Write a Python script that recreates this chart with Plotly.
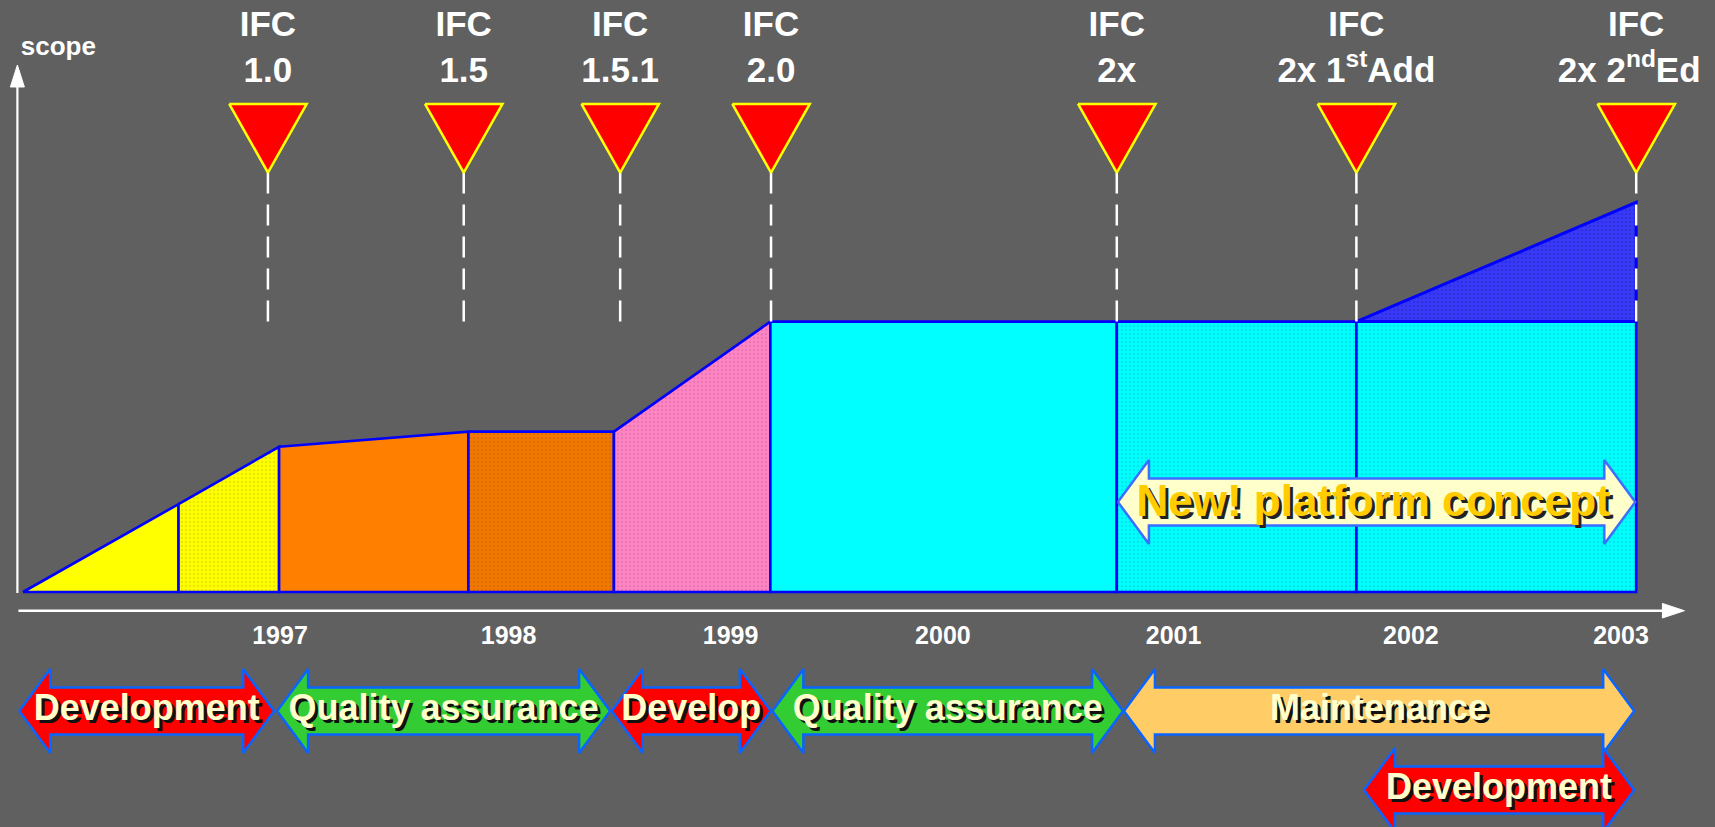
import plotly.graph_objects as go

# ======================= DATA =======================
# Scope profile: x in (decimal) years, y in relative scope units (IFC 2.0 scope = 100)
profile_years = [1995.850, 1996.546, 1996.996, 1997.843, 1998.494, 1999.194, 2000.744, 2001.816, 2003.068]
profile_scope = [0, 32.5, 53.7, 59.3, 59.3, 100, 100, 100, 100]
segment_colors = ["#FFFF00", "#FFFF00", "#FF8000", "#F27800", "#FF84C4",
                  "#00FFFF", "#00FFFF", "#00FFFF"]
segment_dotted = [False, True, False, True, True, False, True, True]

# scope extension of the 2nd edition
ext_years = [2001.816, 2003.068]
ext_scope = [100, 144.1]
ext_color = "#3838FA"

# IFC releases
milestone_years = [1996.946, 1997.822, 1998.522, 1999.197, 2000.744, 2001.816, 2003.068]
milestone_names = ["IFC", "IFC", "IFC", "IFC", "IFC", "IFC", "IFC"]
milestone_versions = ["1.0", "1.5", "1.5.1", "2.0", "2x",
                      "2x 1<sup>st</sup>Add", "2x 2<sup>nd</sup>Ed"]

# time axis labels
year_labels = ["1997", "1998", "1999", "2000", "2001", "2002", "2003"]
year_positions = [1997.000, 1998.023, 1999.016, 1999.966, 2000.998, 2002.060, 2003.000]

# project phases
phase_labels = ["Development", "Quality assurance", "Develop", "Quality assurance",
                "Maintenance", "Development"]
phase_start = [1995.833, 1996.987, 1998.484, 1999.203, 2000.776, 2001.850]
phase_end = [1996.974, 1998.477, 1999.196, 2000.772, 2003.059, 2003.059]
phase_row = [0, 0, 0, 0, 0, 1]
phase_colors = ["#FF0000", "#33CC33", "#FF0000", "#33CC33", "#FFCC66", "#FF0000"]

platform_label = "New! platform concept"
platform_start = 2000.749
platform_end = 2003.064

# ======================= STYLE / LAYOUT =======================
W, H = 1715, 827
PX_PER_YEAR = 223.5
PX_PER_SCOPE = 2.704
X0 = 1995.7472          # year at left edge of the figure
Y0 = -86.91             # scope value at bottom edge of the figure
BG = "#606060"
EDGE = "#0000FF"
ARROW_EDGE = "#0A64FF"
FONT = "Liberation Sans, Arial, sans-serif"


def dx(px):
    return px / PX_PER_YEAR


def dy(px):
    return px / PX_PER_SCOPE


def darken(hexc, f=0.85):
    h = hexc.lstrip("#")
    r, g, b = (int(h[i:i + 2], 16) for i in (0, 2, 4))
    return "#%02X%02X%02X" % (int(r * f), int(g * f), int(b * f))


ROW_CENTERS = [-44.0, -73.2]
PLATFORM_CENTER = 33.3
TRI_TOP = 180.5
TRI_TIP = 155.1
TRI_HALF_W_PX = 38.75
DASH_END = 100
AXIS_X = 1995.8250
AXIS_Y = -6.92
V_AXIS_BOTTOM = -0.4
V_AXIS_TIP = 194.9
H_AXIS_TIP = 2003.2837
YEAR_Y = -16.8
IFC_Y = 208.8
VER_Y = 192.0
SCOPE_Y = 201.0
# horizontal nudges (px) of the version labels (last one kept inside the page)
VERSION_SHIFT_PX = [0, 0, 0, 0, 0, 0, -7]

fig = go.Figure()

# ---- scope area segments ----
for i in range(len(profile_years) - 1):
    xa, xb = profile_years[i], profile_years[i + 1]
    ya, yb = profile_scope[i], profile_scope[i + 1]
    col = segment_colors[i]
    kw = {}
    if segment_dotted[i]:
        kw["fillpattern"] = dict(shape=".", bgcolor=col, fgcolor=darken(col, 0.82),
                                 size=4, solidity=0.3)
    fig.add_trace(go.Scatter(
        x=[xa, xb, xb, xa, xa], y=[ya, yb, 0, 0, ya],
        mode="lines", fill="toself", fillcolor=col,
        line=dict(color=EDGE, width=2.6), hoverinfo="skip", **kw))

# ---- scope extension (blue wedge) ----
fig.add_trace(go.Scatter(
    x=[ext_years[0], ext_years[1], ext_years[1], ext_years[0]],
    y=[ext_scope[0], ext_scope[1], ext_scope[0], ext_scope[0]],
    mode="lines", fill="toself", fillcolor=ext_color,
    fillpattern=dict(shape=".", bgcolor=ext_color, fgcolor=darken(ext_color, 0.75),
                     size=4, solidity=0.3),
    line=dict(color=EDGE, width=3), hoverinfo="skip"))

# ---- dashed milestone lines ----
dxs, dys = [], []
for m in milestone_years:
    dxs += [m, m, None]
    dys += [TRI_TIP, DASH_END, None]
fig.add_trace(go.Scatter(x=dxs, y=dys, mode="lines",
                         line=dict(color="white", width=2.5, dash="21px,11px"),
                         hoverinfo="skip"))

# ---- milestone triangles ----
txs, tys = [], []
hw = dx(TRI_HALF_W_PX)
for m in milestone_years:
    txs += [m - hw, m + hw, m, m - hw, None]
    tys += [TRI_TOP, TRI_TOP, TRI_TIP, TRI_TOP, None]
fig.add_trace(go.Scatter(x=txs, y=tys, mode="lines", fill="toself",
                         fillcolor="#FF0000", line=dict(color="#FFFF00", width=2.5),
                         hoverinfo="skip"))

# ---- axes (arrows) ----
fig.add_trace(go.Scatter(x=[AXIS_X, AXIS_X], y=[V_AXIS_BOTTOM, V_AXIS_TIP - dy(20)],
                         mode="lines", line=dict(color="white", width=2.2), hoverinfo="skip"))
fig.add_trace(go.Scatter(
    x=[AXIS_X - dx(7), AXIS_X + dx(7), AXIS_X, AXIS_X - dx(7)],
    y=[V_AXIS_TIP - dy(22), V_AXIS_TIP - dy(22), V_AXIS_TIP, V_AXIS_TIP - dy(22)],
    mode="lines", fill="toself", fillcolor="white", line=dict(color="white", width=1),
    hoverinfo="skip"))
fig.add_trace(go.Scatter(x=[AXIS_X + dx(1), H_AXIS_TIP - dx(20)], y=[AXIS_Y, AXIS_Y],
                         mode="lines", line=dict(color="white", width=2.6), hoverinfo="skip"))
fig.add_trace(go.Scatter(
    x=[H_AXIS_TIP - dx(22), H_AXIS_TIP, H_AXIS_TIP - dx(22), H_AXIS_TIP - dx(22)],
    y=[AXIS_Y + dy(7.3), AXIS_Y, AXIS_Y - dy(7.3), AXIS_Y + dy(7.3)],
    mode="lines", fill="toself", fillcolor="white", line=dict(color="white", width=1),
    hoverinfo="skip"))


def double_arrow(x0, x1, yc):
    h = dx(31)
    hh = dy(42)
    s = dy(23.5)
    xs = [x0, x0 + h, x0 + h, x1 - h, x1 - h, x1, x1 - h, x1 - h, x0 + h, x0 + h, x0]
    ys = [yc, yc + hh, yc + s, yc + s, yc + hh, yc, yc - hh, yc - s, yc - s, yc - hh, yc]
    return xs, ys


# ---- platform arrow ----
px_, py_ = double_arrow(platform_start, platform_end, PLATFORM_CENTER)
fig.add_trace(go.Scatter(x=px_, y=py_, mode="lines", fill="toself", fillcolor="#FFFFCC",
                         line=dict(color="#3C6EFF", width=2.5), hoverinfo="skip"))
fig.add_trace(go.Scatter(
    x=[(platform_start + platform_end) / 2 - dx(3)], y=[PLATFORM_CENTER - dy(3)],
    mode="text", text=[platform_label], textposition="middle center",
    textfont=dict(family=FONT, size=44, color="#FFCC00", weight="bold",
                  shadow="3px 3px 0px #222222"),
    hoverinfo="skip"))

# ---- phase arrows ----
for lab, s0, s1, r, c in zip(phase_labels, phase_start, phase_end, phase_row, phase_colors):
    ax_, ay_ = double_arrow(s0, s1, ROW_CENTERS[r])
    fig.add_trace(go.Scatter(x=ax_, y=ay_, mode="lines", fill="toself", fillcolor=c,
                             line=dict(color=ARROW_EDGE, width=2.5), hoverinfo="skip"))
fig.add_trace(go.Scatter(
    x=[(a + b) / 2 for a, b in zip(phase_start, phase_end)],
    y=[ROW_CENTERS[r] for r in phase_row],
    mode="text", text=phase_labels, textposition="middle center",
    textfont=dict(family=FONT, size=36, color="#FFFFCC", weight="bold",
                  shadow="3px 3px 0px #111111"),
    hoverinfo="skip"))

# ---- milestone labels ----
fig.add_trace(go.Scatter(
    x=milestone_years, y=[IFC_Y] * len(milestone_years), mode="text",
    text=milestone_names, textposition="middle center",
    textfont=dict(family=FONT, size=35, color="white", weight="bold"), hoverinfo="skip"))
fig.add_trace(go.Scatter(
    x=[m + dx(s) for m, s in zip(milestone_years, VERSION_SHIFT_PX)],
    y=[VER_Y] * len(milestone_years), mode="text",
    text=milestone_versions, textposition="middle center",
    textfont=dict(family=FONT, size=35, color="white", weight="bold"), hoverinfo="skip"))

# ---- year labels ----
fig.add_trace(go.Scatter(
    x=year_positions, y=[YEAR_Y] * len(year_positions), mode="text",
    text=year_labels, textposition="middle center",
    textfont=dict(family=FONT, size=25, color="white", weight="bold"), hoverinfo="skip"))

# ---- axis title ----
fig.add_trace(go.Scatter(
    x=[AXIS_X + dx(41)], y=[SCOPE_Y], mode="text", text=["scope"],
    textposition="middle center",
    textfont=dict(family=FONT, size=26, color="white", weight="bold"), hoverinfo="skip"))

fig.update_layout(
    width=W, height=H,
    margin=dict(l=0, r=0, t=0, b=0),
    paper_bgcolor=BG, plot_bgcolor=BG,
    showlegend=False,
    xaxis=dict(visible=False, range=[X0, X0 + W / PX_PER_YEAR], fixedrange=True),
    yaxis=dict(visible=False, range=[Y0, Y0 + H / PX_PER_SCOPE], fixedrange=True),
)

fig.write_html("out.html", config={"displayModeBar": False},
               post_script="document.body.style.margin='0';")
